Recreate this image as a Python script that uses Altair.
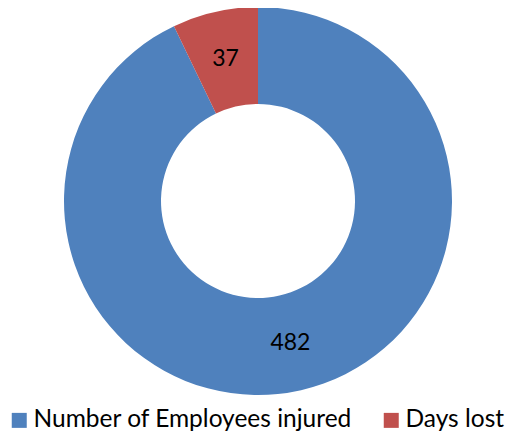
import altair as alt
import pandas as pd

categories = ["Number of Employees injured", "Days lost"]
values = [482, 37]
colors = ["#4F81BD", "#C0504D"]

df = pd.DataFrame({"category": categories, "value": values, "order": [0, 1]})

base = alt.Chart(df).encode(
    theta=alt.Theta("value:Q", stack=True),
    order=alt.Order("order:Q"),
)

arc = base.mark_arc(outerRadius=194, innerRadius=97, stroke=None).encode(
    x=alt.value(250),
    y=alt.value(193),
    color=alt.Color(
        "category:N",
        scale=alt.Scale(domain=categories, range=colors),
        sort=categories,
        legend=alt.Legend(
            title=None,
            orient="none",
            direction="horizontal",
            legendX=-1,
            legendY=400,
            padding=0,
            symbolType="square",
            symbolSize=225,
            symbolStrokeWidth=0,
            labelFontSize=24.5,
            labelFont="Lato",
            labelColor="#000000",
            labelLimit=400,
            columnPadding=26,
            symbolOffset=0,
            labelOffset=2,
        ),
    ),
)

text = base.mark_text(radius=146, fontSize=23, font="Lato", color="#000000").encode(
    x=alt.value(250),
    y=alt.value(193),
    text=alt.Text("value:Q"),
)

chart = (arc + text).properties(
    width=501,
    height=428,
    autosize=alt.AutoSizeParams(type="none"),
    padding=0,
).configure_view(stroke=None)

chart.save("out.html", embed_options={"renderer": "svg", "actions": False})
